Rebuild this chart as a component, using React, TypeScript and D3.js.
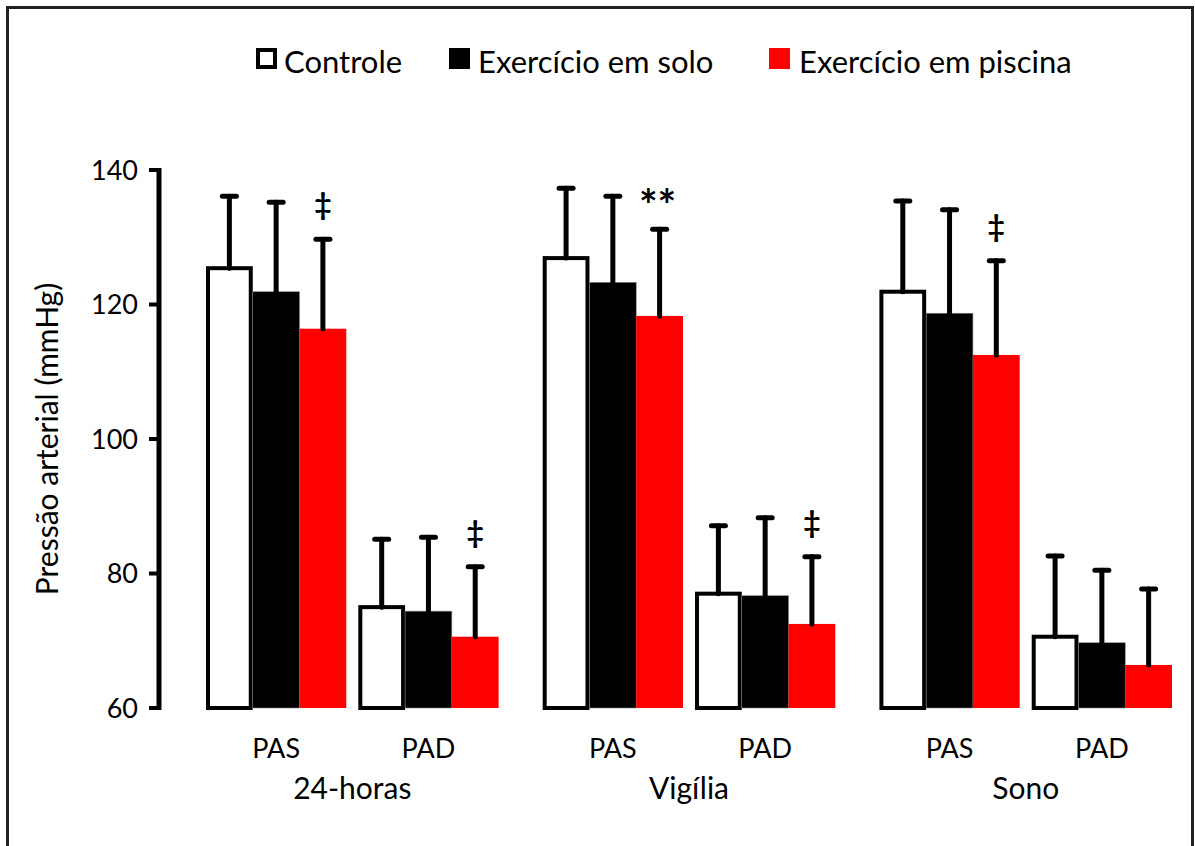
import React from "react";
import * as d3 from "d3";

const periods = ["24-horas", "Vigília", "Sono"];
const measures = ["PAS", "PAD"];
const series = ["Controle", "Exercício em solo", "Exercício em piscina"];
const colors = ["#ffffff", "#000000", "#ff0000"];

// order: 24h PAS, 24h PAD, Vigília PAS, Vigília PAD, Sono PAS, Sono PAD
const controle = [125.4, 75.0, 126.9, 77.0, 121.9, 70.6];
const controleSd = [10.7, 10.1, 10.4, 10.1, 13.5, 12.0];
const solo = [121.9, 74.4, 123.3, 76.7, 118.7, 69.7];
const soloSd = [13.3, 11.0, 12.8, 11.6, 15.4, 10.8];
const piscina = [116.4, 70.6, 118.3, 72.5, 112.5, 66.4];
const piscinaSd = [13.3, 10.4, 12.9, 10.0, 14.0, 11.3];
const piscinaMarks = ["‡", "‡", "**", "‡", "‡", ""];

const yTicks = [60, 80, 100, 120, 140];

const means = [controle, solo, piscina];
const sds = [controleSd, soloSd, piscinaSd];

const font = "Lato, 'Open Sans', sans-serif";

export default function App() {
  const width = 1195;
  const height = 846;

  const y = d3.scaleLinear().domain([60, 140]).range([708, 170]);

  const xPeriod = d3.scaleBand().domain(periods).range([206, 1172]).paddingInner(0.131).paddingOuter(0);
  const xMeasure = d3.scaleBand().domain(measures).range([0, xPeriod.bandwidth()]).paddingInner(0.079).paddingOuter(0);
  const xSeries = d3.scaleBand().domain(series).range([0, xMeasure.bandwidth()]).padding(0);

  const axisX = 159;

  const bars: any[] = [];
  periods.forEach((p, pi) => {
    measures.forEach((m, mi) => {
      const idx = pi * 2 + mi;
      series.forEach((s, si) => {
        const x0 = (xPeriod(p) as number) + (xMeasure(m) as number) + (xSeries(s) as number);
        bars.push({
          key: `${p}-${m}-${s}`,
          x: x0,
          w: xSeries.bandwidth(),
          v: means[si][idx],
          sd: sds[si][idx],
          si,
          mark: si === 2 ? piscinaMarks[idx] : "",
        });
      });
    });
  });

  const legend = [
    { label: series[0], bx: 256, tx: 284 },
    { label: series[1], bx: 449, tx: 478 },
    { label: series[2], bx: 769, tx: 799 },
  ];

  return (
    <svg width={width} height={height} style={{ display: "block", position: "absolute", left: 0, top: 0 }}>
      <rect x={0} y={0} width={width} height={height} fill="#ffffff" />
      <rect x={7.5} y={7.5} width={1185} height={860} fill="none" stroke="#222" strokeWidth={3} />

      {/* legend */}
      {legend.map((l, i) => (
        <g key={l.label}>
          {i === 0 ? (
            <rect x={l.bx + 2} y={50} width={17} height={17} fill="#fff" stroke="#000" strokeWidth={4} />
          ) : (
            <rect x={l.bx} y={48} width={21} height={21} fill={colors[i]} />
          )}
          <text x={l.tx} y={73} fontFamily={font} fontSize={31} fill="#000">
            {l.label}
          </text>
        </g>
      ))}

      {/* bars */}
      {bars.map((b) =>
        b.si === 0 ? (
          <rect key={b.key} x={b.x + 2} y={y(b.v)} width={b.w - 4} height={y(60) - y(b.v)} fill="#fff" stroke="#000" strokeWidth={4} />
        ) : (
          <rect key={b.key} x={b.x} y={y(b.v)} width={b.w} height={y(60) - y(b.v)} fill={colors[b.si]} stroke={b.si === 1 ? "#888" : "none"} strokeWidth={b.si === 1 ? 0.6 : 0} />
        )
      )}

      {/* error bars */}
      {bars.map((b) => {
        const cx = b.x + b.w / 2;
        const top = y(b.v + b.sd);
        return (
          <g key={b.key + "-err"} stroke="#000" strokeWidth={5} strokeLinecap="round">
            <line x1={cx} x2={cx} y1={y(b.v)} y2={top} />
            <line x1={cx - 7} x2={cx + 7} y1={top} y2={top} />
          </g>
        );
      })}

      {/* significance marks */}
      {bars
        .filter((b) => b.mark)
        .map((b) => (
          <text
            key={b.key + "-mark"}
            x={b.x + b.w / 2 + (b.mark === "**" ? -2 : 0)}
            y={y(b.v + b.sd) - (b.mark === "**" ? 8 : 24)}
            textAnchor="middle"
            fontFamily={font}
            fontWeight="bold"
            fontSize={b.mark === "**" ? 44 : 30}
            fill="#000"
          >
            {b.mark}
          </text>
        ))}

      {/* y axis */}
      <line x1={axisX} x2={axisX} y1={y(140) - 2} y2={y(60) + 2} stroke="#000" strokeWidth={5} />
      {yTicks.map((t) => (
        <g key={t}>
          <line x1={axisX - 10} x2={axisX} y1={y(t)} y2={y(t)} stroke="#000" strokeWidth={4} />
          <text x={138} y={y(t)} dy="0.36em" textAnchor="end" fontFamily={font} fontSize={27} fill="#000">
            {t}
          </text>
        </g>
      ))}
      <text
        transform={`translate(58, ${y(100)}) rotate(-90)`}
        textAnchor="middle"
        fontFamily={font}
        fontSize={30}
        fill="#000"
      >
        Pressão arterial (mmHg)
      </text>

      {/* x labels */}
      {periods.map((p) => (
        <g key={p}>
          {measures.map((m) => (
            <text
              key={m}
              x={(xPeriod(p) as number) + (xMeasure(m) as number) + xMeasure.bandwidth() / 2}
              y={758}
              textAnchor="middle"
              fontFamily={font}
              fontSize={27}
              fill="#000"
            >
              {m}
            </text>
          ))}
          <text
            x={(xPeriod(p) as number) + xPeriod.bandwidth() / 2}
            y={799}
            textAnchor="middle"
            fontFamily={font}
            fontSize={30}
            fill="#000"
          >
            {p}
          </text>
        </g>
      ))}
    </svg>
  );
}
